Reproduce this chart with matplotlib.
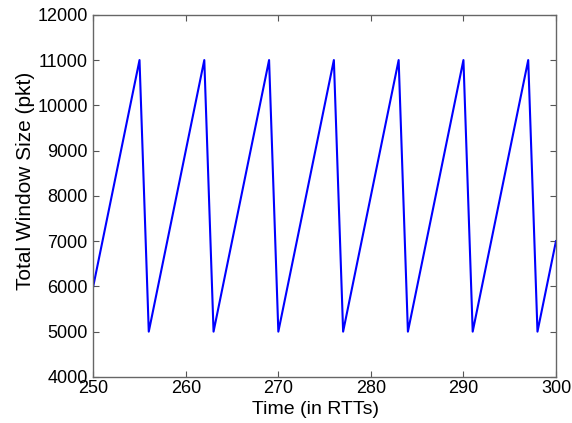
import matplotlib
matplotlib.use('Agg')
import matplotlib.pyplot as plt

# window size sampled once per RTT
time_rtt = list(range(250, 301))
window = [6000, 7000, 8000, 9000, 10000, 11000,
          5000, 6000, 7000, 8000, 9000, 10000, 11000,
          5000, 6000, 7000, 8000, 9000, 10000, 11000,
          5000, 6000, 7000, 8000, 9000, 10000, 11000,
          5000, 6000, 7000, 8000, 9000, 10000, 11000,
          5000, 6000, 7000, 8000, 9000, 10000, 11000,
          5000, 6000, 7000, 8000, 9000, 10000, 11000,
          5000, 6000, 7000]

xticks = [250, 260, 270, 280, 290, 300]
yticks = [4000, 5000, 6000, 7000, 8000, 9000, 10000, 11000, 12000]

plt.rcParams['font.family'] = ['Liberation Sans', 'DejaVu Sans']

fig = plt.figure(figsize=(5.72, 4.23), dpi=100)
ax = fig.add_axes([0.163, 0.109, 0.809, 0.856])

ax.plot(time_rtt, window, color='#0000ff', linewidth=1.5)

ax.set_xlim(250, 300)
ax.set_ylim(4000, 12000)
ax.set_xticks(xticks)
ax.set_yticks(yticks)
ax.tick_params(direction='in', top=True, right=True, length=4,
               labelsize=13, color='#555555')
ax.tick_params(axis='x', pad=2)
ax.tick_params(axis='y', pad=4)
for s in ax.spines.values():
    s.set_color('#666666')
    s.set_linewidth(1.0)

ax.set_xlabel('Time (in RTTs)', fontsize=14)
ax.set_ylabel('Total Window Size (pkt)', fontsize=15)
ax.xaxis.set_label_coords(0.48, -0.066)
ax.yaxis.set_label_coords(-0.125, 0.54)

plt.savefig('out.png', dpi=100)
